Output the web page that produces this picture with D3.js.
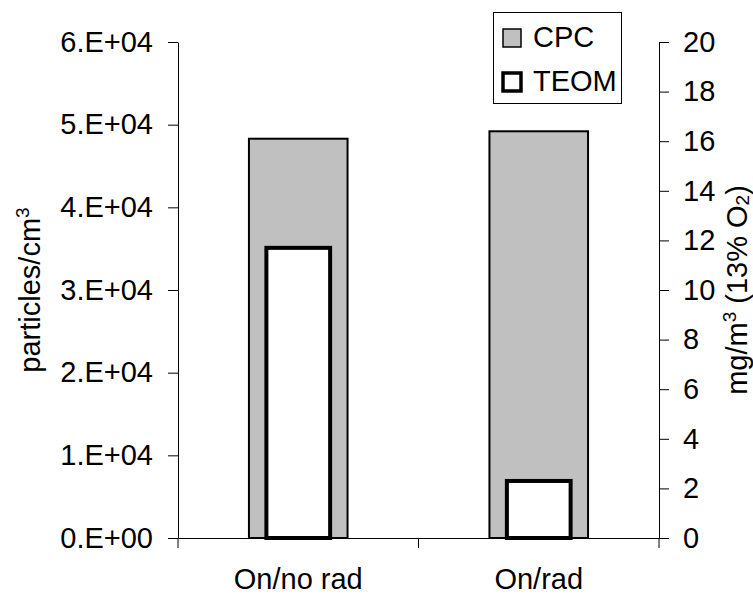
<!DOCTYPE html>
<html lang="en">
<head>
    <meta charset="UTF-8">
    <title>CPC vs TEOM</title>
    <script src="https://d3js.org/d3.v7.min.js"></script>
    <style>
        body { margin: 0; background: #fff; }
        text { font-family: "Liberation Sans", Arial, sans-serif; fill: #000; }
    </style>
</head>
<body>
    <div id="chart"></div>

    <script>
        // Data
        const categories = ["On/no rad", "On/rad"];
        const cpcValues = [48300, 49200];   // particles/cm3 (left axis)
        const teomValues = [11.7, 2.3];     // mg/m3 (right axis)
        const leftTicks = [0, 10000, 20000, 30000, 40000, 50000, 60000];
        const rightTicks = [0, 2, 4, 6, 8, 10, 12, 14, 16, 18, 20];
        const seriesNames = ["CPC", "TEOM"];

        const width = 753;
        const height = 596;
        const margin = { top: 42, right: 94, bottom: 58, left: 178 };
        const fontSize = 29;

        const svg = d3.select("#chart")
            .append("svg")
            .attr("width", width)
            .attr("height", height);

        const xScale = d3.scaleBand()
            .domain(categories)
            .range([margin.left, width - margin.right])
            .padding(0);

        const yLeft = d3.scaleLinear()
            .domain([0, 60000])
            .range([height - margin.bottom, margin.top]);

        const yRight = d3.scaleLinear()
            .domain([0, 20])
            .range([height - margin.bottom, margin.top]);

        // Excel style "6.E+04"
        function sciFormat(v) {
            if (v === 0) return "0.E+00";
            const e = Math.floor(Math.log10(v));
            const m = Math.round(v / Math.pow(10, e));
            return m + ".E+" + String(e).padStart(2, "0");
        }

        const bw = xScale.bandwidth();
        const cpcW = bw * 0.41;
        const teomW = bw * 0.265;

        // CPC bars (grey)
        svg.selectAll("rect.cpc")
            .data(cpcValues)
            .enter()
            .append("rect")
            .attr("class", "cpc")
            .attr("x", (d, i) => xScale(categories[i]) + (bw - cpcW) / 2)
            .attr("y", d => yLeft(d))
            .attr("width", cpcW)
            .attr("height", d => yLeft(0) - yLeft(d))
            .attr("fill", "#c0c0c0")
            .attr("stroke", "#000")
            .attr("stroke-width", 2);

        // TEOM bars (white, heavy outline)
        svg.selectAll("rect.teom")
            .data(teomValues)
            .enter()
            .append("rect")
            .attr("class", "teom")
            .attr("x", (d, i) => xScale(categories[i]) + (bw - teomW) / 2)
            .attr("y", d => yRight(d))
            .attr("width", teomW)
            .attr("height", d => yRight(0) - yRight(d))
            .attr("fill", "#fff")
            .attr("stroke", "#000")
            .attr("stroke-width", 4);

        // Left axis
        const gLeft = svg.append("g")
            .attr("transform", `translate(${margin.left},0)`)
            .call(d3.axisLeft(yLeft)
                .tickValues(leftTicks)
                .tickFormat(sciFormat)
                .tickSize(10)
                .tickSizeOuter(0)
                .tickPadding(15));

        // Right axis
        const gRight = svg.append("g")
            .attr("transform", `translate(${width - margin.right},0)`)
            .call(d3.axisRight(yRight)
                .tickValues(rightTicks)
                .tickSize(10)
                .tickSizeOuter(0)
                .tickPadding(14));

        // Bottom axis: labels at band centres, ticks at band edges
        const gBottom = svg.append("g")
            .attr("transform", `translate(0,${height - margin.bottom})`)
            .call(d3.axisBottom(xScale)
                .tickSize(0)
                .tickPadding(30));

        const edges = categories.map(c => xScale(c)).concat(xScale.range()[1]);
        gBottom.selectAll("line.edge")
            .data(edges)
            .enter()
            .append("line")
            .attr("class", "edge")
            .attr("x1", d => d)
            .attr("x2", d => d)
            .attr("y1", 0)
            .attr("y2", 10)
            .attr("stroke", "#000");

        [gLeft, gRight, gBottom].forEach(g => {
            g.selectAll("text")
                .attr("font-family", "Liberation Sans, Arial, sans-serif")
                .attr("font-size", fontSize)
                .attr("fill", "#000");
            g.selectAll("path.domain, line").attr("stroke", "#000");
        });

        // Left axis title
        const midY = (yLeft.range()[0] + yLeft.range()[1]) / 2;
        const leftTitle = svg.append("text")
            .attr("transform", `translate(40,${midY}) rotate(-90)`)
            .attr("text-anchor", "middle")
            .attr("font-size", fontSize);
        leftTitle.append("tspan").text("particles/cm");
        leftTitle.append("tspan").attr("font-size", 19).attr("dy", -11).text("3");

        // Right axis title
        const rightTitle = svg.append("text")
            .attr("transform", `translate(747,${midY}) rotate(-90)`)
            .attr("text-anchor", "middle")
            .attr("font-size", fontSize);
        rightTitle.append("tspan").text("mg/m");
        rightTitle.append("tspan").attr("font-size", 19).attr("dy", -11).text("3");
        rightTitle.append("tspan").attr("dy", 11).text(" (13% O");
        rightTitle.append("tspan").attr("font-size", 19).attr("dy", 2).text("2");
        rightTitle.append("tspan").attr("dy", -2).text(")");

        // Legend
        const legend = svg.append("g");
        legend.append("rect")
            .attr("x", 493.5)
            .attr("y", 12.5)
            .attr("width", 128)
            .attr("height", 91)
            .attr("fill", "#fff")
            .attr("stroke", "#000");

        const legendItems = legend.selectAll("g.item")
            .data(seriesNames)
            .enter()
            .append("g")
            .attr("class", "item")
            .attr("transform", (d, i) => `translate(503,${29 + i * 44})`);

        legendItems.append("rect")
            .attr("width", 18)
            .attr("height", 18)
            .attr("fill", (d, i) => i === 0 ? "#c0c0c0" : "#fff")
            .attr("stroke", "#000")
            .attr("stroke-width", (d, i) => i === 0 ? 1.5 : 3.5);

        legendItems.append("text")
            .attr("x", 30)
            .attr("y", 18)
            .attr("font-size", fontSize)
            .text(d => d);
    </script>
</body>
</html>
